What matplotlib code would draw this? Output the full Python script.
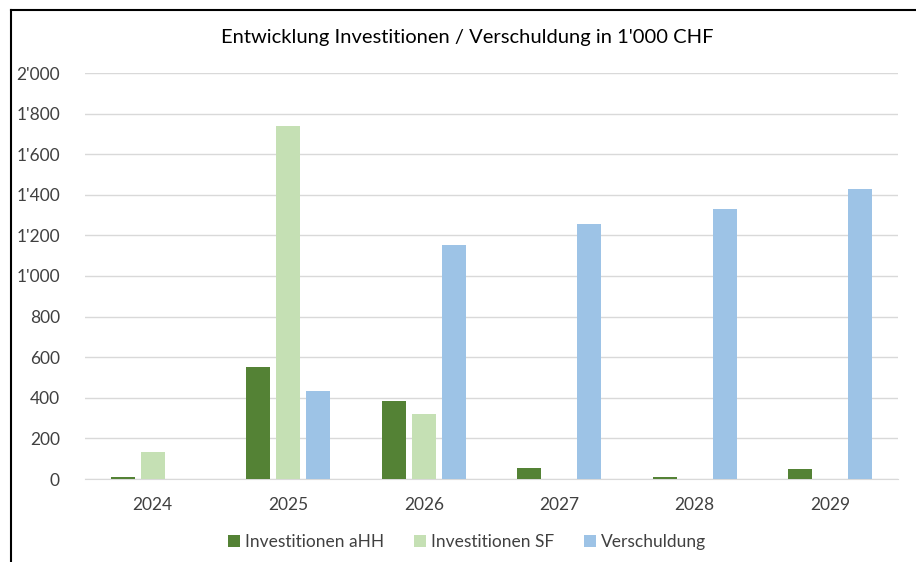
import matplotlib
matplotlib.use("Agg")
import matplotlib.pyplot as plt
import numpy as np
from matplotlib.lines import Line2D
from matplotlib.ticker import FuncFormatter

plt.rcParams["font.family"] = ["Lato", "DejaVu Sans"]
plt.rcParams["font.size"] = 12

years = ["2024", "2025", "2026", "2027", "2028", "2029"]
inv_ahh = [10, 552, 385, 54, 8, 50]
inv_sf = [133, 1740, 320, 0, 0, 0]
verschuldung = [0, 434, 1153, 1257, 1331, 1430]

series = [
    ("Investitionen aHH", inv_ahh, "#548235"),
    ("Investitionen SF", inv_sf, "#C5E0B4"),
    ("Verschuldung", verschuldung, "#9DC3E6"),
]

fig = plt.figure(figsize=(9.16, 5.62), dpi=100)
ax = fig.add_axes([85 / 916, 1 - 479 / 562, (898 - 85) / 916, (479 - 73) / 562])

x = np.arange(len(years))
width = 0.177
step = 0.222
for i, (name, vals, col) in enumerate(series):
    ax.bar(x + (i - 1) * step, vals, width, color=col, label=name, zorder=3)

ax.set_xlim(-0.5, len(years) - 0.5)
ax.set_ylim(0, 2000)
ax.set_yticks(range(0, 2001, 200))
ax.yaxis.set_major_formatter(FuncFormatter(lambda v, p: f"{int(v):,}".replace(",", "'")))
ax.set_xticks(x)
ax.set_xticklabels(years)
ax.grid(axis="y", color="#d9d9d9", linewidth=1, zorder=0)
for s in ["top", "right", "left"]:
    ax.spines[s].set_visible(False)
ax.spines["bottom"].set_color("#d9d9d9")
ax.tick_params(axis="both", length=0, colors="#404040", labelsize=12.5)
ax.tick_params(axis="y", pad=18)
ax.tick_params(axis="x", pad=13)

fig.text(467 / 916, 1 - 38 / 562, "Entwicklung Investitionen / Verschuldung in 1'000 CHF",
         ha="center", va="center", fontsize=14.5, color="#000000")

fig.legend(loc="center", bbox_to_anchor=(467 / 916, 1 - 542 / 562), ncol=3,
           frameon=False, fontsize=12.5, handlelength=0.7, handleheight=0.7,
           handletextpad=0.3, columnspacing=1.7, labelcolor="#404040")

# chart border (top and left edges visible in the crop)
fig.add_artist(Line2D([11 / 916, 11 / 916], [0, 1 - 10 / 562], color="black", linewidth=1.5))
fig.add_artist(Line2D([11 / 916, 1], [1 - 10 / 562, 1 - 10 / 562], color="black", linewidth=1.5))

fig.savefig("out.png", dpi=100)
